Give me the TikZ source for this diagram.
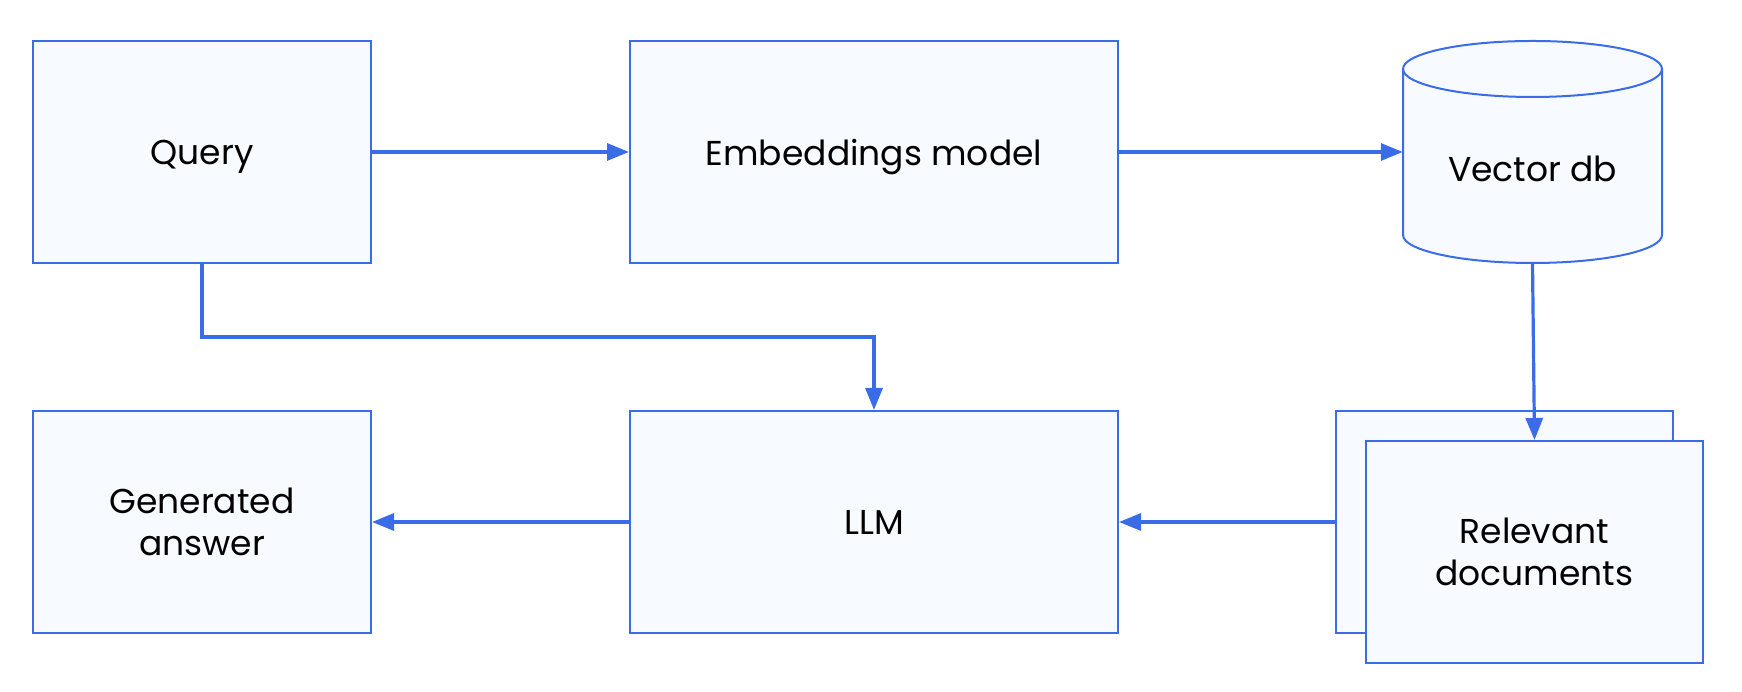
\documentclass[tikz,border=0pt]{standalone}
\usepackage{fontspec}
\setmainfont{Poppins}
\usetikzlibrary{arrows.meta}
\definecolor{edge}{HTML}{3B6CE8}
\definecolor{boxfill}{HTML}{F7FAFF}
\tikzset{
  txt/.style={font=\fontsize{34.5}{42}\selectfont},
  box/.style={draw=edge, fill=boxfill, line width=2pt, rectangle, inner sep=0pt,
    align=center, txt},
  conn/.style={draw=edge, line width=3.2pt, -{Triangle[length=22pt,width=17pt]}},
}
\begin{document}
\begin{tikzpicture}[x=1pt,y=1pt]
\useasboundingbox (0,0) rectangle (1742,692);
\node[box, text depth=0pt, minimum width=338pt, minimum height=222pt] (query) at (202,540) {Query};
\node[box, text depth=0pt, minimum width=488pt, minimum height=222pt] (embed) at (874,540) {Embeddings model};
% vector db cylinder
\node[minimum width=259pt, minimum height=222pt, inner sep=0pt] (vdb) at (1532.5,540) {};
\path[draw=edge, fill=boxfill, line width=2pt]
  (1403,623) -- (1403,457) arc[start angle=180, end angle=360, x radius=129.5, y radius=28]
  -- (1662,623) arc[start angle=0, end angle=180, x radius=129.5, y radius=28] -- cycle;
\draw[edge, line width=2pt] (1403,623) arc[start angle=180, end angle=360, x radius=129.5, y radius=28];
\node[txt, text depth=0pt] (vdbtext) at (1532.5,523) {Vector db};
% documents
\node[box, minimum width=337pt, minimum height=222pt] (docsb) at (1504.5,170) {};
\node[box, minimum width=337pt, minimum height=222pt] (docsf) at (1534.5,140) {Relevant\\documents};
\node[box, minimum width=488pt, minimum height=222pt] (llm) at (874,170) {LLM};
\node[box, minimum width=338pt, minimum height=222pt] (answer) at (202,170) {Generated\\answer};
% connectors
\draw[conn] (query.east) -- (embed.west);
\draw[conn] (embed.east) -- (vdb.west);
\draw[conn] (vdb.south) -- (docsf.north);
\coordinate (qbend) at (202,355);
\draw[conn] (query.south) -- (qbend) -| (llm.north);
\draw[conn] (docsb.west) -- (llm.east);
\draw[conn] (llm.west) -- (answer.east);
\end{tikzpicture}
\end{document}
